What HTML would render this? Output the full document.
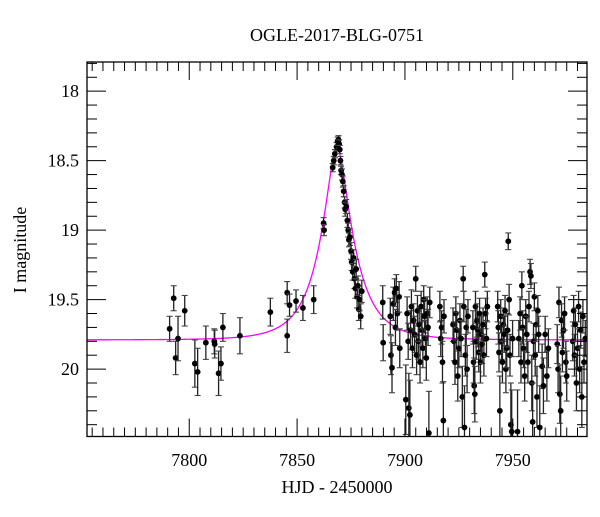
<!DOCTYPE html>
<html><head><meta charset="utf-8"><style>
body{margin:0;background:#fff}
svg text{font-family:"Liberation Serif",serif;fill:#000}
</style></head><body>
<svg id="c" width="600" height="512" viewBox="0 0 600 512" xmlns="http://www.w3.org/2000/svg">
<rect width="600" height="512" fill="#fff"/>
<text x="337" y="41" font-size="18" text-anchor="middle">OGLE-2017-BLG-0751</text>
<text x="337" y="493" font-size="18" text-anchor="middle">HJD - 2450000</text>
<text x="26" y="250" font-size="18" text-anchor="middle" transform="rotate(-90 26 250)">I magnitude</text>
<defs><clipPath id="pc"><rect x="87" y="62" width="500" height="374.5"/></clipPath></defs>
<g id="marks" clip-path="url(#pc)"></g>
<g id="axes"></g>
</svg>
<script>
const xTicks=[7800,7850,7900,7950];
const yTicks=[18,18.5,19,19.5,20];
const xTickLabels=["7800","7850","7900","7950"];
const yTickLabels=["18","18.5","19","19.5","20"];
const modelParams=[7868.5,0.29,15.7,19.79]; // t0,u0,tE,baseline
const days=[7790.9,7792.8,7793.7,7794.8,7797.9,7802.6,7803.9,7807.7,7811.6,7811.8,7813.6,7814.7,7815.6,7823.5,7837.6,7845.4,7845.4,7846.5,7849.5,7852.7,7857.7,
7862.3,7862.5,7866.5,7867.0,7867.5,7868.3,7868.8,7869.2,7869.5,7869.8,7870.1,7870.4,7870.8,7871.2,7871.6,7872.0,7872.3,7872.8,7873.3,7873.7,7874.0,7874.5,7875.0,7875.3,7875.8,7876.2,7876.6,7877.0,7877.4,7877.8,7878.2,7878.6,7879.0,7879.5,7880.0,
7889.7,7889.9,7893.2,7893.5,7894.0,7894.6,7895.2,7895.6,7896.0,7896.5,7897.3,7897.6,
7900.4,7901.0,7901.5,7901.8,7902.3,7902.6,7903.0,7903.5,7904.0,7904.5,7905.0,7905.4,7905.8,7906.2,7906.6,7907.0,7907.5,7907.9,7908.3,7908.7,7909.1,7909.5,7909.9,7910.3,7910.7,7911.1,7911.5,
7916.2,7916.6,7917.0,7917.4,7917.8,7918.1,
7922.3,7922.7,7923.2,7923.6,7924.0,7924.5,7925.0,7925.5,7926.0,7926.6,7927.0,7927.3,7927.6,7928.0,7928.4,7928.8,7929.2,
7931.5,7931.8,7932.1,7932.4,7932.7,7933.0,7933.4,7933.8,7934.2,7934.6,7935.0,7935.4,7935.8,7936.2,7936.6,7937.0,7937.4,7937.8,7938.2,
7943.0,7943.3,7943.6,7944.0,7944.4,7944.8,7945.2,7945.6,7946.0,7946.4,7946.8,7947.2,7947.6,7947.9,7948.3,7948.7,7949.1,7949.5,7949.9,
7952.2,7952.8,7953.4,7953.8,7954.2,7954.6,7955.0,7955.5,7956.0,7956.5,7957.0,7957.5,7958.0,7958.4,7958.8,7959.2,7959.6,7960.0,7960.4,7960.8,7961.2,7961.6,7962.0,7962.5,
7963.6,7964.2,7965.0,7965.8,7966.5,
7970.6,7971.0,7971.4,7971.8,7972.2,7972.6,7973.0,7973.5,7974.0,7974.6,7975.0,
7977.8,7978.2,7978.6,7979.0,7979.5,7980.0,7980.5,7981.0,7981.5,7982.0,7982.5,7983.0,7983.6];
const mags=[19.71,19.49,19.92,19.78,19.58,19.96,20.02,19.81,19.80,19.82,20.03,19.96,19.70,19.76,19.59,19.45,19.76,19.54,19.51,19.56,19.50,
18.95,19.00,18.55,18.50,18.45,18.40,18.36,18.35,18.38,18.42,18.50,18.57,18.60,18.65,18.72,18.80,18.85,18.83,18.93,19.00,19.07,19.05,19.15,19.23,19.30,19.20,19.35,19.42,19.28,19.48,19.40,19.57,19.50,19.62,19.44,
19.52,19.81,19.62,19.90,19.99,19.53,19.45,19.70,19.42,19.60,19.48,19.85,
20.22,19.60,19.80,20.28,20.33,19.72,19.55,19.85,19.65,19.75,19.35,19.90,19.58,19.80,19.68,19.95,19.55,19.72,19.85,19.50,19.62,19.78,19.92,19.60,19.70,20.46,19.52,
19.55,19.78,19.70,19.95,20.37,19.62,
19.68,19.80,19.95,19.60,19.72,20.05,19.85,19.65,19.78,20.20,19.35,19.55,20.42,19.90,19.70,20.00,19.62,
19.70,19.95,20.12,20.18,19.55,19.80,19.65,19.72,19.88,19.60,19.95,19.75,19.82,19.68,19.90,19.32,19.60,19.78,19.55,
19.55,19.70,19.88,20.30,19.62,19.80,19.95,19.68,19.75,19.58,20.00,19.85,19.72,19.08,19.50,19.90,20.40,20.45,19.78,
20.45,19.78,19.60,19.95,19.40,19.70,19.85,20.05,19.62,19.75,19.95,19.55,19.30,19.33,20.10,20.38,19.80,19.48,19.90,19.68,20.20,19.58,19.75,20.42,
19.98,20.12,19.75,20.05,19.85,
19.82,20.00,19.52,20.18,20.30,19.65,19.88,19.72,19.60,19.95,20.05,
19.80,19.58,19.90,19.68,20.10,19.85,19.55,20.00,19.72,20.20,19.62,19.95,19.78];
const errs=[0.09,0.09,0.12,0.16,0.11,0.17,0.17,0.12,0.09,0.10,0.16,0.12,0.10,0.13,0.10,0.08,0.12,0.08,0.08,0.09,0.10,
0.04,0.04,0.03,0.03,0.03,0.03,0.03,0.03,0.03,0.03,0.03,0.03,0.04,0.04,0.04,0.04,0.05,0.05,0.05,0.05,0.05,0.06,0.06,0.06,0.06,0.06,0.07,0.07,0.07,0.08,0.07,0.08,0.08,0.09,0.08,
0.12,0.13,0.13,0.14,0.18,0.12,0.10,0.13,0.10,0.12,0.11,0.14,
0.25,0.12,0.13,0.25,0.25,0.14,0.12,0.14,0.12,0.13,0.09,0.14,0.11,0.13,0.12,0.15,0.11,0.12,0.14,0.10,0.12,0.13,0.16,0.12,0.13,0.30,0.11,
0.11,0.13,0.12,0.15,0.28,0.12,
0.12,0.14,0.16,0.12,0.13,0.18,0.14,0.12,0.13,0.22,0.09,0.11,0.30,0.15,0.13,0.17,0.12,
0.12,0.15,0.20,0.20,0.11,0.13,0.12,0.12,0.14,0.11,0.15,0.13,0.14,0.12,0.15,0.09,0.11,0.13,0.11,
0.11,0.12,0.14,0.25,0.12,0.13,0.15,0.12,0.13,0.11,0.17,0.14,0.12,0.06,0.11,0.15,0.30,0.30,0.13,
0.30,0.13,0.12,0.15,0.10,0.12,0.14,0.18,0.12,0.13,0.15,0.11,0.09,0.09,0.20,0.28,0.13,0.10,0.15,0.12,0.22,0.11,0.13,0.30,
0.16,0.20,0.13,0.18,0.14,
0.14,0.17,0.11,0.21,0.25,0.12,0.14,0.13,0.12,0.15,0.18,
0.14,0.11,0.15,0.12,0.20,0.14,0.11,0.17,0.13,0.22,0.12,0.15,0.13];

const L=87,R=587,T=62,B=436.5;
const X0=7752.6,X1=7984.4,Y0=17.79,Y1=20.485;
const sx=d=>L+(d-X0)/(X1-X0)*(R-L);
const sy=m=>T+(m-Y0)/(Y1-Y0)*(B-T);
const NS="http://www.w3.org/2000/svg";
function mk(tag,attrs,parent){const e=document.createElementNS(NS,tag);for(const k in attrs)e.setAttribute(k,attrs[k]);parent.appendChild(e);return e;}
const marks=document.getElementById('marks'),axes=document.getElementById('axes');

function modelMag(t){const [t0,u0,tE,base]=modelParams;const tau=(t-t0)/tE;const u=Math.sqrt(u0*u0+tau*tau);const A=(u*u+2)/(u*Math.sqrt(u*u+4));return base-2.5*Math.log10(A);}
let dstr="";
for(let t=X0;t<=X1;t+=0.2){dstr+=(dstr?"L":"M")+sx(t).toFixed(2)+" "+sy(modelMag(t)).toFixed(2);}
const curve=mk('path',{d:dstr,fill:'none',stroke:'#ff00ff','stroke-width':1.3},marks);



for(let i=0;i<days.length;i++){
  const x=sx(days[i]),y=sy(mags[i]),y1=sy(mags[i]-errs[i]),y2=sy(mags[i]+errs[i]);
  const g=mk('g',{},marks);
  
  
  mk('line',{x1:x,x2:x,y1:y1,y2:y2,stroke:'#222','stroke-width':1.3},g);
  mk('line',{x1:x-3,x2:x+3,y1:y1,y2:y1,stroke:'#444','stroke-width':1.1},g);
  mk('line',{x1:x-3,x2:x+3,y1:y2,y2:y2,stroke:'#444','stroke-width':1.1},g);
  mk('circle',{cx:x,cy:y,r:2.9,fill:'#000'},g);
}

const fr=mk('rect',{x:L,y:T,width:R-L,height:B-T,fill:'none',stroke:'#000','stroke-width':1.3},axes);


for(let d=7755;d<=X1;d+=5){const x=sx(d);const maj=d%50===0;const len=maj?18:9;
  mk('line',{x1:x,x2:x,y1:B,y2:B-len,stroke:'#000','stroke-width':1},axes);
  mk('line',{x1:x,x2:x,y1:T,y2:T+len,stroke:'#000','stroke-width':1},axes);}
xTicks.forEach((v,i)=>{const t=mk('text',{x:sx(v),y:466,'font-size':18,'text-anchor':'middle'},axes);t.textContent=xTickLabels[i];
  
  });
for(let k=18;k<=204;k++){const m=k/10;if(m<Y0||m>Y1)continue;const y=sy(m);const maj=k%5===0;const len=maj?19:10;
  mk('line',{x1:L,x2:L+len,y1:y,y2:y,stroke:'#000','stroke-width':1},axes);
  mk('line',{x1:R,x2:R-len,y1:y,y2:y,stroke:'#000','stroke-width':1},axes);}
yTicks.forEach((v,i)=>{const t=mk('text',{x:79,y:sy(v)+6,'font-size':18,'text-anchor':'end'},axes);t.textContent=yTickLabels[i];
  
  });
</script>
</body></html>
